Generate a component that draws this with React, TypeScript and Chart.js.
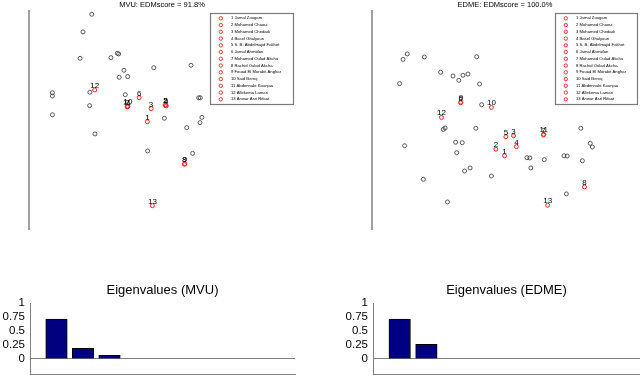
import React, { useEffect, useRef } from "react";
import { Chart, registerables } from "chart.js";
Chart.register(...registerables);

const FONT = '"Liberation Sans", Arial, Helvetica, sans-serif';

// ---- data ----
const memberNames = [
  "1 Jamal Zougam",
  "2 Mohamed Chaoui",
  "3 Mohamed Chedadi",
  "4 Basel Ghalyoun",
  "5 S. B. Abdelmajid Fakhet",
  "6 Jamal Ahmidan",
  "7 Mohamed Oulad Akcha",
  "8 Rachid Oulad Akcha",
  "9 Fouad El Morabit Anghar",
  "10 Said Berraj",
  "11 Abdennabi Kounjaa",
  "12 Allekema Lamari",
  "13 Anwar Asri Rifaat",
];
const memberLabels = ["1", "2", "3", "4", "5", "6", "7", "8", "9", "10", "11", "12", "13"];

const mvuTitle = "MVU: EDMscore = 91.8%";
const mvuMemberX = [44.5, 51.2, 45.9, 51.6, 51.4, 41.4, 37.0, 58.4, 58.6, 37.2, 36.9, 24.7, 46.4];
const mvuMemberY = [49.2, 56.9, 55.2, 56.5, 56.7, 60.2, 56.1, 29.7, 29.9, 56.3, 56.0, 63.8, 10.7];
const mvuOtherX = [23.6, 20.3, 19.2, 30.8, 33.2, 33.7, 46.9, 60.9, 35.7, 33.9, 37.1, 8.8, 8.8, 8.8, 22.8, 24.8, 36.2, 22.9, 50.9, 59.3, 64.3, 65.0, 64.4, 63.8, 44.6, 61.5];
const mvuOtherY = [98.5, 90.4, 78.3, 78.6, 80.6, 80.3, 74.0, 75.1, 72.8, 69.6, 69.9, 62.5, 61.0, 52.4, 56.6, 43.6, 61.6, 62.7, 50.8, 46.5, 48.8, 51.2, 60.2, 60.2, 35.8, 34.7];

const edmeTitle = "EDME: EDMscore = 100.0%";
const edmeMemberX = [50.4, 47.1, 53.8, 54.9, 50.9, 33.7, 65.2, 80.8, 33.8, 45.4, 65.3, 26.4, 66.8];
const edmeMemberY = [33.6, 36.6, 42.8, 37.8, 42.3, 57.9, 43.1, 19.3, 58.2, 55.8, 43.4, 51.2, 10.9];
const edmeOtherX = [11.8, 13.4, 19.9, 39.8, 26.1, 30.8, 33.0, 34.6, 36.5, 10.5, 40.9, 41.7, 27.8, 27.1, 39.5, 79.4, 83.0, 83.8, 12.4, 31.8, 34.3, 32.2, 58.9, 60.0, 65.5, 73.0, 74.2, 80.0, 60.4, 37.3, 35.2, 45.4, 19.5, 73.9, 28.7];
const edmeOtherY = [77.8, 80.3, 78.9, 79.0, 71.9, 70.2, 68.2, 70.5, 71.1, 66.7, 66.5, 57.0, 46.3, 45.7, 46.2, 46.2, 39.3, 37.6, 38.2, 39.8, 39.6, 35.0, 32.7, 32.6, 31.8, 33.6, 33.5, 31.3, 28.0, 28.0, 26.6, 24.3, 22.8, 16.1, 12.4];

const eigenIndex = [1, 2, 3, 4, 5, 6, 7, 8, 9];
const mvuEigen = [0.714, 0.19, 0.064];
const edmeEigen = [0.714, 0.26];
const eigenTicks = [0, 0.25, 0.5, 0.75, 1];

// ---- plugins ----
const memberPlugin = {
  id: "memberMarks",
  afterDatasetsDraw(chart: any, _args: any, opts: any) {
    const ctx = chart.ctx;
    const meta = chart.getDatasetMeta(1);
    ctx.save();
    ctx.font = `8px ${FONT}`;
    ctx.fillStyle = "#000";
    ctx.textAlign = "center";
    ctx.textBaseline = "alphabetic";
    meta.data.forEach((pt: any, i: number) => {
      ctx.fillText(memberLabels[i], pt.x, pt.y - 2);
    });
    const b = opts.box;
    if (b) {
      ctx.fillStyle = "#fff";
      ctx.fillRect(b.left, b.top, b.right - b.left, b.bottom - b.top);
      ctx.strokeStyle = "#7a7a7a";
      ctx.lineWidth = 1.2;
      ctx.strokeRect(b.left + 0.5, b.top + 0.5, b.right - b.left, b.bottom - b.top);
      ctx.font = `4.2px ${FONT}`;
      ctx.textAlign = "left";
      ctx.textBaseline = "middle";
      memberNames.forEach((name, i) => {
        const y = b.top + 5.3 + i * 6.75;
        ctx.beginPath();
        ctx.strokeStyle = "#ff2020";
        ctx.lineWidth = 0.9;
        ctx.arc(b.left + 10.8, y, 1.7, 0, Math.PI * 2);
        ctx.stroke();
        ctx.fillStyle = "#000";
        ctx.fillText(name, b.left + 21, y);
      });
    }
    ctx.restore();
  },
};

const centerTitlePlugin = {
  id: "centerTitle",
  afterDraw(chart: any, _args: any, opts: any) {
    if (!opts || !opts.text) return;
    const ctx = chart.ctx;
    const a = chart.chartArea;
    ctx.save();
    ctx.font = `${opts.size}px ${FONT}`;
    ctx.fillStyle = "#000";
    ctx.textAlign = "center";
    ctx.textBaseline = "middle";
    ctx.fillText(opts.text, (a.left + a.right) / 2, opts.y);
    ctx.restore();
  },
};

function scatterConfig(title: string, mx: number[], my: number[], ox: number[], oy: number[], padL: number, padR: number, box: any) {
  return {
    type: "scatter",
    data: {
      datasets: [
        {
          data: ox.map((x, i) => ({ x, y: oy[i] })),
          pointRadius: 2,
          pointBorderWidth: 0.8,
          pointBorderColor: "#333",
          pointBackgroundColor: "rgba(0,0,0,0)",
        },
        {
          data: mx.map((x, i) => ({ x, y: my[i] })),
          pointRadius: 2,
          pointBorderWidth: 1,
          pointBorderColor: "#ff2020",
          pointBackgroundColor: "rgba(0,0,0,0)",
        },
      ],
    },
    options: {
      responsive: false,
      animation: false,
      devicePixelRatio: 1,
      layout: { padding: { left: padL, right: padR, top: 0, bottom: 6 } },
      plugins: {
        legend: { display: false },
        tooltip: { enabled: false },
        title: {
          display: true,
          text: title,
          color: "#000",
          font: { family: FONT, size: 7.5, weight: "normal" },
          padding: { top: 0, bottom: 2 },
        },
        memberMarks: { box },
      },
      scales: {
        x: { type: "linear", min: 0, max: 100, display: false },
        y: {
          type: "linear",
          min: 0,
          max: 100,
          ticks: { display: false },
          grid: { display: false, drawTicks: false },
          border: { display: true, color: "#a0a0a0", width: 2 },
        },
      },
    },
    plugins: [memberPlugin],
  };
}

function barConfig(title: string, values: number[], padR: number, axisW: number) {
  return {
    type: "bar",
    data: {
      datasets: [
        {
          data: values.map((v, i) => ({ x: eigenIndex[i], y: v })),
          backgroundColor: "#000080",
          borderColor: "#000",
          borderWidth: 1,
          barThickness: 21.5,
        },
      ],
    },
    options: {
      responsive: false,
      animation: false,
      devicePixelRatio: 1,
      layout: { padding: { left: 0, right: padR, top: 33, bottom: 1 } },
      plugins: {
        legend: { display: false },
        tooltip: { enabled: false },
        title: { display: false },
        centerTitle: { text: title, size: 13, y: 20.8 },
      },
      scales: {
        x: {
          type: "linear",
          min: 0,
          max: 10,
          offset: false,
          ticks: { display: false },
          grid: { display: false, drawTicks: false },
          border: { display: true, color: "#808080", width: 1 },
        },
        y: {
          type: "linear",
          min: -0.27,
          max: 1,
          ticks: {
            stepSize: 0.25,
            color: "#000",
            padding: 5,
            autoSkip: false,
            font: { family: FONT, size: 11.5 },
            callback: (v: number) => String(v),
          },
          afterBuildTicks: (axis: any) => {
            axis.ticks = eigenTicks.map((value) => ({ value }));
          },
          afterFit: (s: any) => {
            s.width = axisW;
            s.paddingTop = 0;
            s.paddingBottom = 0;
          },
          grid: {
            drawTicks: false,
            color: (c: any) => (c.tick && Math.abs(c.tick.value) < 1e-9 ? "#808080" : "rgba(0,0,0,0)"),
          },
          border: { display: true, color: "#808080", width: 1 },
        },
      },
    },
    plugins: [centerTitlePlugin],
  };
}

function ChartCanvas({ left, top, width, height, make }: any) {
  const ref = useRef<HTMLCanvasElement>(null);
  useEffect(() => {
    const chart = new Chart(ref.current as HTMLCanvasElement, make());
    return () => chart.destroy();
  }, []);
  return (
    <canvas
      ref={ref}
      width={width}
      height={height}
      style={{ position: "absolute", left, top, width, height, display: "block" }}
    />
  );
}

export default function App() {
  return (
    <div style={{ position: "fixed", left: 0, top: 0, width: 640, height: 375, background: "#fff", overflow: "hidden" }}>
      <ChartCanvas
        left={0}
        top={0}
        width={320}
        height={235}
        make={() =>
          scatterConfig(mvuTitle, mvuMemberX, mvuMemberY, mvuOtherX, mvuOtherY, 29, 25, { left: 210, top: 13, right: 293, bottom: 104 })
        }
      />
      <ChartCanvas
        left={320}
        top={0}
        width={320}
        height={235}
        make={() =>
          scatterConfig(edmeTitle, edmeMemberX, edmeMemberY, edmeOtherX, edmeOtherY, 52, 2, { left: 235, top: 13, right: 317, bottom: 104 })
        }
      />
      <ChartCanvas left={0} top={270} width={320} height={105} make={() => barConfig("Eigenvalues (MVU)", mvuEigen, 25, 30)} />
      <ChartCanvas left={320} top={270} width={320} height={105} make={() => barConfig("Eigenvalues (EDME)", edmeEigen, 0, 53)} />
    </div>
  );
}
